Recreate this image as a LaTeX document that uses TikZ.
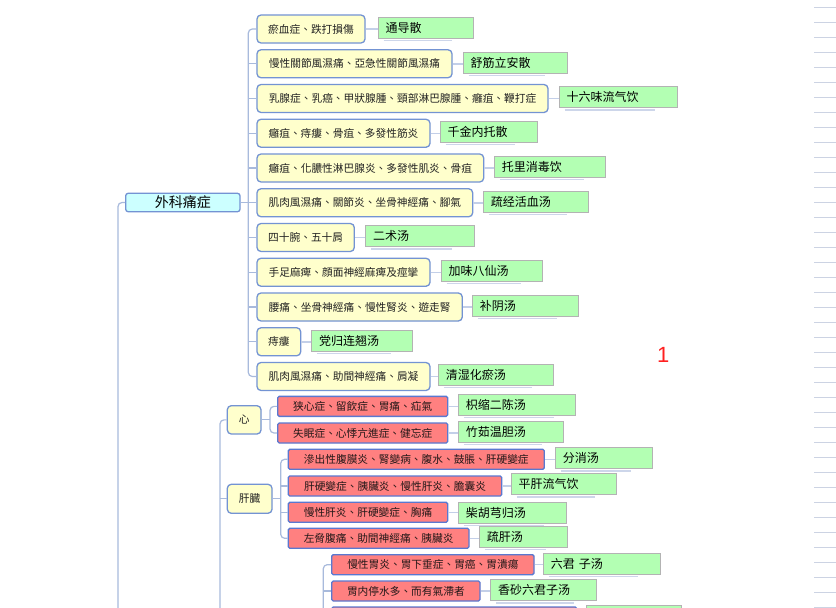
\documentclass[tikz,border=0pt]{standalone}
\usepackage{fontspec}
\newfontfamily\tcfont{Noto Sans CJK TC}
\newfontfamily\scfont{Noto Sans CJK SC}
\newfontfamily\lsans{Liberation Sans}
\definecolor{boxblue}{HTML}{7393D3}
\definecolor{rblue}{HTML}{5A78D0}
\definecolor{yfill}{HTML}{FFFFCC}
\definecolor{rfill}{HTML}{FF8080}
\definecolor{cfill}{HTML}{CCFFFF}
\definecolor{gfill}{HTML}{B3FFB3}
\definecolor{gborder}{HTML}{B3B3B3}
\definecolor{busc}{HTML}{A8BADC}
\definecolor{stubc}{HTML}{C3CFE8}
\definecolor{shadowc}{HTML}{CDD6EA}
\definecolor{edgec}{HTML}{CCD3E3}
\definecolor{txtgray}{HTML}{222222}
\definecolor{rtext}{HTML}{241818}
\definecolor{pagered}{HTML}{FF2020}
\tikzset{
  ybox/.style={draw=boxblue, fill=yfill, rounded corners=4pt, line width=1.3pt,
    inner sep=0pt, minimum height=28pt, font=\tcfont\fontsize{10.7}{12}\selectfont, text=txtgray},
  rootbox/.style={draw=boxblue, fill=cfill, rounded corners=2.5pt, line width=1.3pt,
    inner sep=0pt, minimum height=18.4pt, font=\scfont\fontsize{14}{16}\selectfont, text=black},
  rbox/.style={draw=rblue, fill=rfill, rounded corners=1.5pt, line width=1.3pt,
    inner sep=0pt, minimum height=20pt, font=\tcfont\fontsize{10.7}{12}\selectfont, text=rtext},
  gbox/.style={draw=gborder, fill=gfill, line width=0.9pt, inner xsep=7.5pt, inner ysep=0pt,
    minimum height=21pt, align=left, font=\scfont\fontsize{12}{14}\selectfont, text=black},
  bus/.style={draw=busc, line width=1.2pt, rounded corners=4pt},
  stub/.style={draw=stubc, line width=1.5pt},
  shadowline/.style={draw=shadowc, line width=1.2pt},
  edgeline/.style={draw=edgec, line width=1pt},
}
\begin{document}
\begin{tikzpicture}[x=1pt,y=-1pt]
\useasboundingbox (0,0) rectangle (836,608);
\clip (0,0) rectangle (836,608);
\fill[white] (0,0) rectangle (836,608);

% right-edge rules
\foreach \k in {0,...,40} \draw[edgeline] (814,{7.3+15*\k}) -- (836,{7.3+15*\k});

% root
\node[rootbox, minimum width=114.3pt] (root) at (182.85,202.5) {外科痛症};

% yellow topics
\node[ybox, minimum width=108pt]   (c1)  at (311,29)      {瘀血症、跌打損傷};
\node[ybox, minimum width=195pt]   (c2)  at (354.5,63.75) {慢性關節風濕痛、亞急性關節風濕痛};
\node[ybox, minimum width=291pt]   (c3)  at (402.5,98.5)  {乳腺症、乳癌、甲狀腺腫、頸部淋巴腺腫、癰疽、鞭打症};
\node[ybox, minimum width=173pt]   (c4)  at (343.5,133.25){癰疽、痔瘻、骨疽、多發性筋炎};
\node[ybox, minimum width=226.7pt] (c5)  at (370.35,168)  {癰疽、化膿性淋巴腺炎、多發性肌炎、骨疽};
\node[ybox, minimum width=215.7pt] (c6)  at (364.85,202.75){肌肉風濕痛、關節炎、坐骨神經痛、腳氣};
\node[ybox, minimum width=97.3pt]  (c7)  at (305.65,237.5){四十腕、五十肩};
\node[ybox, minimum width=173pt]   (c8)  at (343.5,272.25){手足麻痺、顔面神經麻痺及痙攣};
\node[ybox, minimum width=205.3pt] (c9)  at (359.65,307)  {腰痛、坐骨神經痛、慢性腎炎、遊走腎};
\node[ybox, minimum width=43.7pt]  (c10) at (278.85,341.75){痔瘻};
\node[ybox, minimum width=173pt]   (c11) at (343.5,376.5) {肌肉風濕痛、助間神經痛、肩凝};

% green remedies, first group
\node[gbox, text width=80.5pt]  (g1)  at (425.75,27.8)  {通导散};
\node[gbox, text width=89pt]    (g2)  at (515,62.5)     {舒筋立安散};
\node[gbox, text width=103pt]   (g3)  at (618,97.3)     {十六味流气饮};
\node[gbox, text width=82pt]    (g4)  at (488.5,132)    {千金内托散};
\node[gbox, text width=96.4pt]  (g5)  at (550,166.8)    {托里消毒饮};
\node[gbox, text width=90pt]    (g6)  at (535.8,201.5)  {疏经活血汤};
\node[gbox, text width=93.3pt]  (g7)  at (419.85,236.3) {二术汤};
\node[gbox, text width=86.3pt]  (g8)  at (491.65,270.6) {加味八仙汤};
\node[gbox, text width=91pt]    (g9)  at (525.3,305.8)  {补阴汤};
\node[gbox, text width=85.6pt]  (g10) at (362,340.6)    {党归连翘汤};
\node[gbox, text width=100pt]   (g11) at (495.8,374.8)  {清湿化瘀汤};

% second group
\node[ybox, minimum width=33.7pt, minimum height=28.3pt] (xin)  at (244.15,419.85) {心};
\node[ybox, minimum width=44.7pt, minimum height=29pt]   (ganz) at (249.65,498.8)  {肝臓};

\node[rbox, minimum width=170pt]   (r1) at (362.7,406.35) {狭心症、留飲症、胃痛、疝氣};
\node[rbox, minimum width=170pt]   (r2) at (362.7,433)    {失眠症、心悸亢進症、健忘症};
\node[rbox, minimum width=256pt]   (r3) at (416.3,459.3)  {滲出性腹膜炎、腎變病、腹水、鼓脹、肝硬變症};
\node[rbox, minimum width=213.4pt] (r4) at (395,486)      {肝硬變症、胰臟炎、慢性肝炎、膽囊炎};
\node[rbox, minimum width=159.4pt] (r5) at (368,512.3)    {慢性肝炎、肝硬變症、胸痛};
\node[rbox, minimum width=180.7pt] (r6) at (378.65,538.3) {左脅腹痛、助間神經痛、胰臟炎};
\node[rbox, minimum width=202.3pt] (r7) at (432.85,564.65){慢性胃炎、胃下垂症、胃癌、胃潰瘍};
\node[rbox, minimum width=148.3pt] (r8) at (405.85,591)   {胃内停水多、而有氣滯者};
\node[rbox, minimum width=245pt]   (r9) at (454.2,617)    {};

\node[gbox, text width=102.4pt] (gr1) at (517,405)      {枳缩二陈汤};
\node[gbox, text width=90pt]    (gr2) at (510.8,431.7)  {竹茹温胆汤};
\node[gbox, text width=82pt]    (gr3) at (603.8,458.3)  {分消汤};
\node[gbox, text width=90.7pt]  (gr4) at (563.85,484.2) {平肝流气饮};
\node[gbox, text width=92.7pt]  (gr5) at (512.15,512.8) {柴胡芎归汤};
\node[gbox, text width=73pt]    (gr6) at (523.3,537)    {疏肝汤};
\node[gbox, text width=101.7pt] (gr7) at (601.65,563.8) {六君 子汤};
\node[gbox, text width=90.3pt]  (gr8) at (543.35,590.2) {香砂六君子汤};
\node[gbox, text width=80pt]    (gr9) at (634.2,615.5)  {};

% shadows under remedies
\foreach \n in {g1,g2,g3,g4,g5,g6,g7,g8,g9,g10,g11,gr1,gr2,gr3,gr4,gr5,gr6,gr7,gr8}
  \draw[shadowline] ([xshift=6pt,yshift=-1.8pt]\n.south west) -- ([xshift=-22pt,yshift=-1.8pt]\n.south east);

% bus coordinates
\coordinate (b0) at (118,640);
\coordinate (bA) at (248.3,0);
\coordinate (bB) at (220,640);
\coordinate (bC) at (270,0);
\coordinate (bD) at (280.7,0);
\coordinate (bE) at (323.3,640);

% root to its parent bus
\draw[bus] (root.west) -- (root.west -| b0) -- (b0);
% root children
\draw[bus] (c1.west) -- (c1.west -| bA) -- (c11.west -| bA) -- (c11.west);
\foreach \i in {2,...,10} \draw[bus] (c\i.west -| bA) -- (c\i.west);
\draw[bus] (root.east) -- (root.east -| bA);
% second group bus
\draw[bus] (xin.west) -- (xin.west -| bB) -- (bB);
\draw[bus] (ganz.west -| bB) -- (ganz.west);
% heart children
\draw[bus] (r1.west) -- (r1.west -| bC) -- (r2.west -| bC) -- (r2.west);
\draw[bus] (xin.east) -- (xin.east -| bC);
% liver children
\draw[bus] (r3.west) -- (r3.west -| bD) -- (r6.west -| bD) -- (r6.west);
\draw[bus] (r4.west -| bD) -- (r4.west);
\draw[bus] (r5.west -| bD) -- (r5.west);
\draw[bus] (ganz.east) -- (ganz.east -| bD);
% stomach children
\draw[bus] (r7.west) -- (r7.west -| bE) -- (bE);
\draw[bus] (r8.west -| bE) -- (r8.west);
\draw[bus] (r9.west -| bE) -- (r9.west);

% topic to remedy stubs
\foreach \i in {1,...,11} \draw[stub] (c\i.east) -- (c\i.east -| g\i.west);
\foreach \i in {1,...,9} \draw[stub] (r\i.east) -- (r\i.east -| gr\i.west);

% page number
\node[font=\lsans\fontsize{22}{24}\selectfont, text=pagered, inner sep=0pt] (pg) at (663.3,354.5) {1};
\end{tikzpicture}
\end{document}
